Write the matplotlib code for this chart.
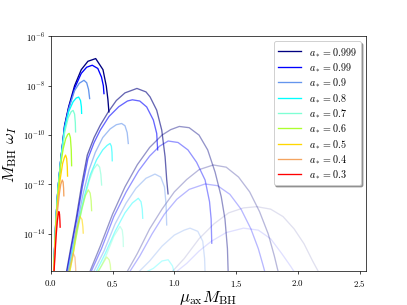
import numpy as np
import matplotlib
matplotlib.use('Agg')
import matplotlib.pyplot as plt

plt.rcParams['font.family'] = 'serif'
plt.rcParams['font.serif'] = ['cmr10']
plt.rcParams['mathtext.fontset'] = 'cm'
plt.rcParams['axes.formatter.use_mathtext'] = True

# spins (legend order) and their colours
spins = ['0.999', '0.99', '0.9', '0.8', '0.7', '0.6', '0.5', '0.4', '0.3']
colors = ['navy', 'blue', 'cornflowerblue', 'cyan', 'aquamarine',
          'greenyellow', 'gold', 'sandybrown', 'red']

# curves: x = mu_ax M_BH, logy = log10(M_BH omega_I)
# one list per spin, empty where the curve is below the plotted range
l1_x = [
    [0.022, 0.03, 0.04, 0.057, 0.079, 0.111, 0.144, 0.192, 0.246, 0.300, 0.363, 0.422, 0.449, 0.462, 0.470],
    [0.022, 0.03, 0.04, 0.057, 0.079, 0.111, 0.144, 0.192, 0.246, 0.29, 0.335, 0.38, 0.41, 0.425, 0.430],
    [0.022, 0.03, 0.04, 0.057, 0.079, 0.111, 0.144, 0.192, 0.23, 0.268, 0.29, 0.305, 0.314],
    [0.022, 0.03, 0.04, 0.057, 0.079, 0.111, 0.144, 0.18, 0.205, 0.225, 0.24, 0.247, 0.249],
    [0.022, 0.03, 0.04, 0.057, 0.079, 0.111, 0.14, 0.165, 0.18, 0.192, 0.198, 0.200],
    [0.022, 0.03, 0.04, 0.057, 0.079, 0.1, 0.12, 0.137, 0.148, 0.158, 0.165, 0.168],
    [0.023, 0.031, 0.042, 0.057, 0.075, 0.095, 0.11, 0.119, 0.128, 0.133, 0.135],
    [0.024, 0.032, 0.042, 0.055, 0.068, 0.08, 0.092, 0.099, 0.103, 0.105],
    [0.025, 0.033, 0.042, 0.052, 0.06, 0.065, 0.07, 0.073, 0.075],
]
l1_logy = [
    [-15.6, -14.6, -13.5, -12.2, -11.05, -9.6, -8.85, -8.0, -7.35, -7.01, -6.90, -7.35, -8.02, -8.56, -9.06],
    [-15.6, -14.6, -13.5, -12.2, -11.05, -9.65, -8.9, -8.1, -7.5, -7.25, -7.17, -7.3, -7.65, -8.0, -8.32],
    [-15.6, -14.6, -13.5, -12.2, -11.05, -9.7, -8.95, -8.2, -7.9, -7.78, -7.88, -8.15, -8.52],
    [-15.6, -14.6, -13.5, -12.2, -11.05, -9.75, -9.05, -8.65, -8.5, -8.46, -8.6, -8.85, -9.12],
    [-15.6, -14.6, -13.55, -12.25, -11.1, -9.9, -9.3, -9.05, -9.0, -9.15, -9.5, -9.87],
    [-15.6, -14.65, -13.6, -12.35, -11.2, -10.55, -10.15, -9.97, -9.93, -10.1, -10.6, -11.24],
    [-15.6, -14.7, -13.7, -12.6, -11.8, -11.15, -10.9, -10.81, -10.95, -11.3, -11.66],
    [-15.6, -14.8, -13.9, -13.0, -12.4, -12.0, -11.82, -11.9, -12.15, -12.46],
    [-15.6, -14.9, -14.1, -13.5, -13.2, -13.1, -13.2, -13.45, -13.73],
]

l2_x = [
    [0.124, 0.16, 0.205, 0.25, 0.295, 0.35, 0.40, 0.465, 0.53, 0.60, 0.697, 0.77, 0.803, 0.857, 0.898, 0.925, 0.938, 0.949],
    [0.128, 0.165, 0.21, 0.255, 0.30, 0.35, 0.40, 0.47, 0.55, 0.62, 0.66, 0.72, 0.776, 0.83, 0.857, 0.865],
    [0.135, 0.17, 0.215, 0.26, 0.31, 0.36, 0.42, 0.48, 0.53, 0.573, 0.60, 0.618, 0.627],
    [0.14, 0.18, 0.225, 0.27, 0.32, 0.37, 0.42, 0.455, 0.479, 0.49, 0.495, 0.497],
    [0.145, 0.185, 0.23, 0.27, 0.31, 0.345, 0.376, 0.395, 0.405, 0.411],
    [0.15, 0.185, 0.22, 0.25, 0.28, 0.303, 0.318, 0.326, 0.330],
    [0.15, 0.18, 0.205, 0.236, 0.252, 0.259, 0.262],
    [0.14, 0.16, 0.181, 0.195, 0.201, 0.203],
    [],
]
l2_logy = [
    [-15.6, -14.6, -13.37, -12.0, -10.81, -10.1, -9.6, -9.06, -8.6, -8.29, -8.11, -8.25, -8.45, -8.99, -9.8, -10.88, -11.8, -12.38],
    [-15.6, -14.6, -13.4, -12.1, -10.95, -10.3, -9.8, -9.25, -8.85, -8.62, -8.57, -8.62, -8.86, -9.39, -9.93, -10.6],
    [-15.6, -14.7, -13.55, -12.4, -11.4, -10.7, -10.1, -9.75, -9.58, -9.53, -9.62, -9.9, -10.34],
    [-15.6, -14.6, -13.5, -12.5, -11.6, -11.0, -10.6, -10.42, -10.34, -10.45, -10.7, -11.04],
    [-15.6, -14.6, -13.5, -12.6, -11.85, -11.38, -11.18, -11.3, -11.6, -12.02],
    [-15.6, -14.7, -13.7, -13.0, -12.45, -12.22, -12.35, -12.65, -13.06],
    [-15.6, -14.85, -13.9, -13.3, -13.42, -13.7, -13.97],
    [-15.6, -15.2, -14.78, -14.95, -15.4, -15.86],
    [],
]

l3_x = [
    [0.31, 0.40, 0.50, 0.60, 0.70, 0.80, 0.90, 0.97, 1.04, 1.12, 1.20, 1.27, 1.33, 1.38, 1.41, 1.43, 1.438],
    [0.32, 0.41, 0.51, 0.61, 0.71, 0.80, 0.88, 0.95, 1.03, 1.11, 1.18, 1.249, 1.285, 1.298, 1.303],
    [0.34, 0.43, 0.52, 0.61, 0.69, 0.77, 0.843, 0.89, 0.92, 0.933, 0.938],
    [0.36, 0.44, 0.52, 0.60, 0.66, 0.708, 0.73, 0.74, 0.744],
    [0.38, 0.45, 0.51, 0.56, 0.578, 0.585, 0.587],
    [0.37, 0.41, 0.452, 0.472, 0.481, 0.484],
    [], [], [],
]
l3_logy = [
    [-15.6, -14.5, -13.2, -12.1, -11.2, -10.5, -10.0, -9.78, -9.65, -9.7, -10.0, -10.6, -11.5, -12.5, -13.4, -14.6, -15.9],
    [-15.6, -14.6, -13.3, -12.3, -11.45, -10.85, -10.45, -10.24, -10.3, -10.6, -11.1, -11.82, -12.7, -13.4, -14.38],
    [-15.6, -14.7, -13.6, -12.75, -12.15, -11.75, -11.58, -11.7, -12.1, -12.8, -13.64],
    [-15.6, -14.8, -13.9, -13.15, -12.75, -12.56, -12.7, -13.0, -13.37],
    [-15.6, -14.85, -14.1, -13.7, -13.85, -14.15, -14.51],
    [-15.6, -15.3, -14.94, -15.05, -15.25, -15.45],
    [], [], [],
]

l4_x = [
    [0.61, 0.70, 0.80, 0.90, 1.00, 1.10, 1.20, 1.316, 1.42, 1.52, 1.61, 1.69, 1.76, 1.81, 1.844],
    [0.63, 0.72, 0.82, 0.92, 1.02, 1.12, 1.249, 1.35, 1.45, 1.54, 1.62, 1.68, 1.72, 1.736],
    [0.70, 0.80, 0.90, 1.00, 1.08, 1.127, 1.19, 1.23, 1.245, 1.249],
    [0.75, 0.83, 0.90, 0.95, 0.985, 1.0],
    [], [], [], [], [],
]
l4_logy = [
    [-15.6, -14.8, -13.8, -13.0, -12.3, -11.8, -11.4, -11.21, -11.3, -11.7, -12.3, -13.1, -14.0, -14.9, -15.6],
    [-15.6, -14.9, -14.0, -13.2, -12.6, -12.2, -11.98, -12.05, -12.4, -13.0, -13.8, -14.6, -15.3, -15.6],
    [-15.6, -15.1, -14.5, -14.05, -13.85, -13.77, -13.9, -14.3, -15.0, -15.6],
    [-15.6, -15.4, -15.1, -15.05, -15.3, -15.6],
    [], [], [], [], [],
]

l5_x = [
    [0.97, 1.08, 1.2, 1.32, 1.44, 1.56, 1.668, 1.78, 1.88, 1.97, 2.05, 2.12, 2.174],
    [1.0, 1.1, 1.2, 1.3, 1.42, 1.56, 1.68, 1.78, 1.87, 1.94, 1.979],
    [], [], [], [], [], [], [],
]
l5_logy = [
    [-15.6, -15.0, -14.2, -13.6, -13.15, -12.95, -12.9, -13.0, -13.3, -13.8, -14.4, -15.1, -15.6],
    [-15.6, -15.2, -14.7, -14.3, -13.95, -13.77, -13.85, -14.2, -14.8, -15.3, -15.6],
    [], [], [], [], [], [], [],
]

groups = [(l1_x, l1_logy, 1.0), (l2_x, l2_logy, 0.6), (l3_x, l3_logy, 0.42),
          (l4_x, l4_logy, 0.28), (l5_x, l5_logy, 0.12)]

fig, ax = plt.subplots(figsize=(6.4, 4.8))

for gi, (gx, gy, alpha) in reversed(list(enumerate(groups))):
    for i in range(len(spins)):
        if len(gx[i]) == 0:
            continue
        lab = r'$a_* = %s$' % spins[i] if gi == 0 else None
        ax.plot(gx[i], 10.0 ** np.array(gy[i]), color=colors[i], alpha=alpha,
                lw=1.5, label=lab, solid_joinstyle='round')

ax.set_yscale('log')
ax.set_xlim(0, 2.555)
ax.set_ylim(3e-16, 1e-6)
ax.set_yticks([1e-6, 1e-8, 1e-10, 1e-12, 1e-14])
ax.yaxis.set_minor_locator(matplotlib.ticker.NullLocator())
ax.set_xticks([0.0, 0.5, 1.0, 1.5, 2.0, 2.5])
ax.set_xlabel(r'$\mu_{\rm ax} M_{\rm BH}$', fontsize=19, labelpad=0)
ax.set_ylabel(r'$M_{\rm BH}\ \omega_I$', fontsize=19)

handles, labels = ax.get_legend_handles_labels()
order = [labels.index(r'$a_* = %s$' % s) for s in spins]
ax.legend([handles[k] for k in order], [labels[k] for k in order],
          loc='upper right', fontsize=11.5, shadow=True, handlelength=2.3,
          labelspacing=0.26)

fig.savefig('out.png', dpi=63.6)
